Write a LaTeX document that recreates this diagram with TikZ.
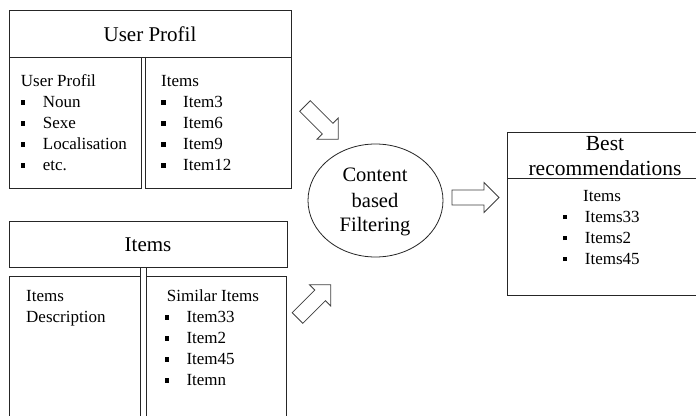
\documentclass[tikz,border=0pt]{standalone}
\usepackage{fontspec}
\setmainfont{Liberation Serif}
\usetikzlibrary{shapes.geometric}
\begin{document}
\begin{tikzpicture}[x=1pt,y=-1pt,
  boxline/.style={draw=black!85,line width=0.8pt},
  body/.style={font=\fontsize{17}{21}\selectfont,inner sep=0pt,anchor=base west},
  head/.style={font=\fontsize{21}{25}\selectfont,inner sep=0pt,anchor=base},
  blockarrow/.pic={\draw[draw=black!75,line width=0.8pt,fill=white]
     (0,-7.5) -- (32,-7.5) -- (32,-15) -- (47,0) -- (32,15) -- (32,7.5) -- (0,7.5) -- cycle;}]
\newcommand{\bul}{\makebox[22pt][l]{\rule[3pt]{4.5pt}{4.5pt}}}
\clip (0,0) rectangle (696,415);
\fill[white] (0,0) rectangle (696,415);

% User Profil box
\draw[boxline] (9.5,10) rectangle (291,57);
\draw[boxline] (9.5,57) rectangle (141.7,188);
\draw[boxline] (145.7,57) rectangle (291,188);
\node[head] (uph) at (150,41.7) {User Profil};
\node[body] (upl) at (20.7,86.5) {User Profil};
\node[body] (up1) at (20.7,107.5) {\bul Noun};
\node[body] (up2) at (20.7,128.5) {\bul Sexe};
\node[body] (up3) at (20.7,149.5) {\bul Localisation};
\node[body] (up4) at (20.7,170.5) {\bul etc.};
\node[body] (upr) at (161,86.5) {Items};
\node[body] (ur1) at (161,107.5) {\bul Item3};
\node[body] (ur2) at (161,128.5) {\bul Item6};
\node[body] (ur3) at (161,149.5) {\bul Item9};
\node[body] (ur4) at (161,170.5) {\bul Item12};

% Items box
\draw[boxline] (9.5,221) rectangle (287,267);
\draw[boxline] (140.7,267) -- (140.7,420);
\draw[boxline] (146.7,267) -- (146.7,420);
\draw[boxline] (140.7,420) -- (9.5,420) -- (9.5,276) -- (140.7,276);
\draw[boxline] (146.7,276) -- (286,276) -- (286,420);
\node[head] (ith) at (148,251) {Items};
\node[body] (itl1) at (26,301.7) {Items};
\node[body] (itl2) at (26,322.7) {Description};
\node[body] (itr) at (166.7,301.7) {Similar Items};
\node[body] (ir1) at (164.3,322.7) {\bul Item33};
\node[body] (ir2) at (164.3,343.7) {\bul Item2};
\node[body] (ir3) at (164.3,364.7) {\bul Item45};
\node[body] (ir4) at (164.3,385.7) {\bul Itemn};

% Content based filtering
\node[draw=black!85,line width=0.8pt,ellipse,minimum width=135pt,minimum height=113pt,inner sep=0pt] (cbf) at (375.5,200.5) {};
\node[head,font=\fontsize{20.5}{25}\selectfont] (cb1) at (375,181.7) {Content};
\node[head,font=\fontsize{20.5}{25}\selectfont] (cb2) at (375,207) {based};
\node[head,font=\fontsize{20.5}{25}\selectfont] (cb3) at (375,231.7) {Filtering};

% Best recommendations box
\draw[boxline] (507,132) rectangle (703,178);
\draw[boxline] (507,178) rectangle (703,295);
\node[head,font=\fontsize{21.5}{25}\selectfont] (br1) at (605,150) {Best};
\node[head,font=\fontsize{21.5}{25}\selectfont] (br2) at (605,175) {recommendations};
\node[body] (bri) at (583,201.7) {Items};
\node[body] (b1) at (562.7,222) {\bul Items33};
\node[body] (b2) at (562.7,243) {\bul Items2};
\node[body] (b3) at (562.7,264) {\bul Items45};

% block arrows
\coordinate (a1) at (305,106);
\coordinate (a2) at (297.5,318);
\coordinate (a3) at (452,197.5);
\pic[rotate=-45] at (a1) {blockarrow};
\pic[rotate=45] at (a2) {blockarrow};
\pic at (a3) {blockarrow};
\end{tikzpicture}
\end{document}
